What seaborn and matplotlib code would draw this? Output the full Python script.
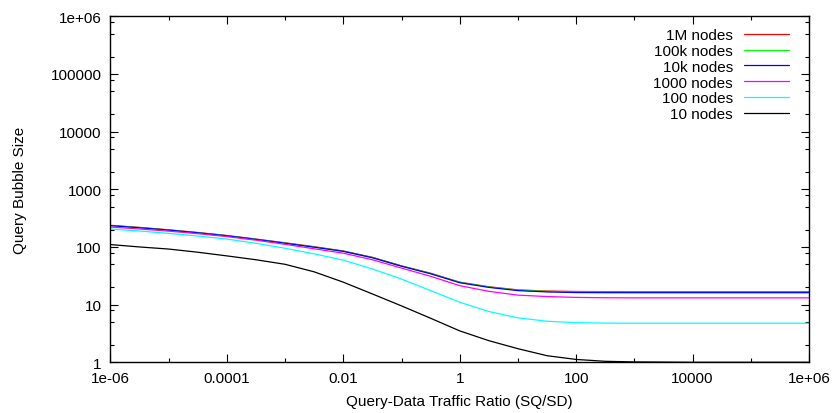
import numpy as np
import pandas as pd
import matplotlib
matplotlib.use("Agg")
import matplotlib.pyplot as plt
from matplotlib.ticker import FixedLocator, FixedFormatter, NullFormatter
import seaborn as sns

# Query-data traffic ratio (SQ/SD) sample points, half-decade steps
ratio = [1e-6, 10**-5.5, 1e-5, 10**-4.5, 1e-4, 10**-3.5, 1e-3, 10**-2.5,
         1e-2, 10**-1.5, 1e-1, 10**-0.5, 1.0, 10**0.5, 10.0, 10**1.5,
         100.0, 10**2.5, 1e3, 1e4, 1e5, 1e6]

# Query bubble size for each network size
bubble_1m = [237, 218, 198, 178, 158, 137, 118, 101, 85, 66, 47, 35, 24.5,
             20.4, 18.0, 17.2, 16.9, 16.8, 16.8, 16.8, 16.8, 16.8]
bubble_100k = [236, 217, 197, 177, 157, 136, 117, 100, 84.5, 65.5, 46.7,
               34.7, 24.3, 20.2, 17.8, 16.9, 16.6, 16.5, 16.5, 16.5, 16.5,
               16.5]
bubble_10k = [234, 215, 196, 176, 156, 135, 116, 99, 84, 65, 46.3, 34.3,
              24.0, 19.9, 17.5, 16.6, 16.2, 16.1, 16.1, 16.1, 16.1, 16.1]
bubble_1000 = [222, 205, 188, 170, 151, 131, 111, 93, 78, 60, 43, 31, 21.3,
               17.0, 14.6, 13.8, 13.35, 13.15, 13.1, 13.1, 13.1, 13.1]
bubble_100 = [205, 189, 172, 155, 137, 116, 95, 76, 59, 41.5, 27.7, 17.5,
              11.0, 7.6, 5.9, 5.15, 4.87, 4.78, 4.75, 4.75, 4.75, 4.75]
bubble_10 = [110, 100, 92, 81, 70, 60, 50, 37, 24.5, 15.3, 9.5, 5.8, 3.5,
             2.37, 1.72, 1.3, 1.12, 1.04, 1.015, 1.0, 1.0, 1.0]

series_labels = ["1M nodes", "100k nodes", "10k nodes", "1000 nodes",
                 "100 nodes", "10 nodes"]
series_values = [bubble_1m, bubble_100k, bubble_10k, bubble_1000,
                 bubble_100, bubble_10]
series_colors = ["#ff0000", "#00ff00", "#0000ff", "#ff00ff", "#00ffff",
                 "#000000"]

x_major = [1e-6, 1e-4, 1e-2, 1, 1e2, 1e4, 1e6]
x_major_labels = ["1e-06", "0.0001", "0.01", "1", "100", "10000", "1e+06"]
x_minor = [1e-5, 1e-3, 1e-1, 1e1, 1e3, 1e5]
y_major = [1, 10, 100, 1000, 10000, 100000, 1000000]
y_major_labels = ["1", "10", "100", "1000", "10000", "100000", "1e+06"]

df = pd.DataFrame({
    "ratio": np.tile(ratio, len(series_labels)),
    "bubble": np.concatenate(series_values),
    "series": np.repeat(series_labels, len(ratio)),
})

FS = 11

sns.set_theme(style="ticks")
plt.rcParams["font.family"] = ["Liberation Sans", "DejaVu Sans"]
plt.rcParams["font.size"] = FS

fig = plt.figure(figsize=(8.35, 4.14), dpi=100)
ax = fig.add_axes([0.1323, 0.1225, 0.8366, 0.8357])

sns.lineplot(data=df, x="ratio", y="bubble", hue="series",
             hue_order=series_labels, palette=series_colors,
             linewidth=0.9, legend=False, ax=ax, sort=True)

ax.set_xscale("log")
ax.set_yscale("log")
ax.set_xlim(1e-6, 1e6)
ax.set_ylim(1, 1e6)

ax.xaxis.set_major_locator(FixedLocator(x_major))
ax.xaxis.set_major_formatter(FixedFormatter(x_major_labels))
ax.xaxis.set_minor_locator(FixedLocator(x_minor))
ax.xaxis.set_minor_formatter(NullFormatter())

y_minor = [d * m for d in y_major[:-1] for m in (2, 5, 8)]
ax.yaxis.set_major_locator(FixedLocator(y_major))
ax.yaxis.set_major_formatter(FixedFormatter(y_major_labels))
ax.yaxis.set_minor_locator(FixedLocator(y_minor))
ax.yaxis.set_minor_formatter(NullFormatter())

ax.tick_params(which="both", direction="in", top=True, right=True,
               color="black", labelcolor="black", labelsize=FS)
ax.tick_params(which="major", length=5.8, width=0.8, pad=6.5)
ax.tick_params(which="minor", length=2.9, width=0.8)
for spine in ax.spines.values():
    spine.set_color("black")
    spine.set_linewidth(1.0)

ax.set_xlabel("Query-Data Traffic Ratio (SQ/SD)", fontsize=FS, color="black")
ax.set_ylabel("Query Bubble Size", fontsize=FS, color="black")
ax.xaxis.set_label_coords(0.5, -0.092)
ax.yaxis.set_label_coords(-0.12, 0.5)

leg = ax.legend(handles=ax.lines[:len(series_labels)], labels=series_labels,
                loc="upper right", bbox_to_anchor=(0.9714, 0.966),
                markerfirst=False, frameon=False, borderaxespad=0,
                borderpad=0, handlelength=2.95, handletextpad=0.72,
                labelspacing=0.12, fontsize=FS)
for t in leg.get_texts():
    t.set_color("black")

fig.savefig("out.png", dpi=100, facecolor="white")
